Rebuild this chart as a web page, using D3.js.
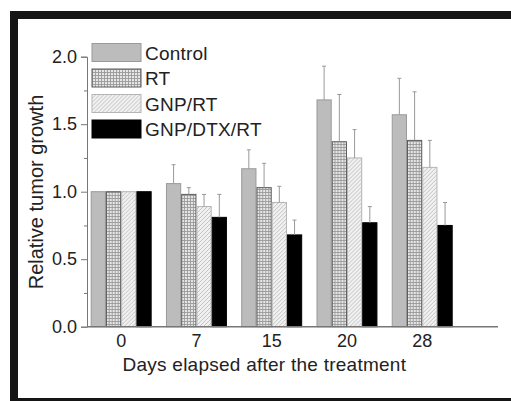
<!DOCTYPE html>
<html>
<head>
<meta charset="utf-8">
<script src="https://cdn.jsdelivr.net/npm/d3@7"></script>
<style>
  html, body { margin: 0; padding: 0; background: #fff; overflow: hidden; }
  svg { display: block; overflow: hidden; }
  text { font-family: "Liberation Sans", Arial, sans-serif; fill: #222; }
</style>
</head>
<body>
<svg id="chart" width="511" height="401"></svg>
<script>
// Days after treatment (groups) and treatment series
const days = ["0", "7", "15", "20", "28"];
const series = ["Control", "RT", "GNP/RT", "GNP/DTX/RT"];

// Mean relative tumor growth per series, one value per day
const controlMean = [1.00, 1.06, 1.17, 1.68, 1.57];
const rtMean      = [1.00, 0.98, 1.03, 1.37, 1.38];
const gnpRtMean   = [1.00, 0.89, 0.92, 1.25, 1.18];
const gnpDtxMean  = [1.00, 0.81, 0.68, 0.77, 0.75];

// Upper error (SD) per series, one value per day
const controlErr = [0, 0.14, 0.14, 0.25, 0.27];
const rtErr      = [0, 0.05, 0.18, 0.35, 0.36];
const gnpRtErr   = [0, 0.09, 0.12, 0.21, 0.20];
const gnpDtxErr  = [0, 0.17, 0.11, 0.12, 0.17];

const yTicks = [0.0, 0.5, 1.0, 1.5, 2.0];
const yMinorTicks = [0.25, 0.75, 1.25, 1.75];

const means = [controlMean, rtMean, gnpRtMean, gnpDtxMean];
const errs = [controlErr, rtErr, gnpRtErr, gnpDtxErr];

const W = 511, H = 401;
const svg = d3.select("#chart");
const defs = svg.append("defs");

// Fine grid pattern for RT
const grid = defs.append("pattern").attr("id", "grid")
  .attr("patternUnits", "userSpaceOnUse").attr("width", 3).attr("height", 3);
grid.append("rect").attr("width", 3).attr("height", 3).attr("fill", "#e6e6e6");
grid.append("path").attr("d", "M0,0.5H3M0.5,0V3").attr("stroke", "#9a9a9a").attr("stroke-width", 0.9);

// Diagonal hatch pattern for GNP/RT
const hatch = defs.append("pattern").attr("id", "hatch")
  .attr("patternUnits", "userSpaceOnUse").attr("width", 4).attr("height", 4);
hatch.append("rect").attr("width", 4).attr("height", 4).attr("fill", "#f1f1f1");
hatch.append("path").attr("d", "M-1,1L1,-1M0,4L4,0M3,5L5,3").attr("stroke", "#bdbdbd").attr("stroke-width", 0.9);

const styles = [
  { fill: "#bcbcbc", stroke: "#9a9a9a" },
  { fill: "url(#grid)", stroke: "#5a5a5a" },
  { fill: "url(#hatch)", stroke: "#b5b5b5" },
  { fill: "#000", stroke: "#000" }
];

// Frame: dark bands on top, left and bottom, open on the right
const frame = svg.append("g").attr("fill", "#151515");
frame.append("rect").attr("x", 10).attr("y", 11).attr("width", W - 10).attr("height", 8);
frame.append("rect").attr("x", 10).attr("y", 11).attr("width", 8).attr("height", H - 11);
frame.append("rect").attr("x", 10).attr("y", 398).attr("width", W - 10).attr("height", H - 398);

// Plot geometry
const axisX = 87, axisRight = 498;
const y = d3.scaleLinear().domain([0, 2]).range([326.7, 56.7]);
const x0 = d3.scaleBand().domain(days).range([90.7, 452.7]).paddingInner(0.19).paddingOuter(0);
const x1 = d3.scaleBand().domain(series).range([0, x0.bandwidth()]).padding(0);

// Bars
const groups = svg.append("g").selectAll("g").data(days).join("g")
  .attr("transform", d => `translate(${x0(d)},0)`);

groups.each(function(day, di) {
  const g = d3.select(this);
  series.forEach((s, si) => {
    const v = means[si][di];
    g.append("rect")
      .attr("x", x1(s) + 0.5)
      .attr("y", y(v))
      .attr("width", x1.bandwidth() - 1)
      .attr("height", y(0) - y(v))
      .attr("fill", styles[si].fill)
      .attr("stroke", styles[si].stroke)
      .attr("stroke-width", 1);
    const e = errs[si][di];
    if (e > 0) {
      const cx = x1(s) + x1.bandwidth() / 2;
      g.append("line").attr("x1", cx).attr("x2", cx)
        .attr("y1", y(v)).attr("y2", y(v + e))
        .attr("stroke", "#999").attr("stroke-width", 1);
      g.append("line").attr("x1", cx - 2).attr("x2", cx + 2)
        .attr("y1", y(v + e)).attr("y2", y(v + e))
        .attr("stroke", "#999").attr("stroke-width", 1);
    }
  });
});

// Y axis
const yAxis = svg.append("g").attr("transform", `translate(${axisX},0)`)
  .call(d3.axisLeft(y).tickValues(yTicks).tickSize(6).tickPadding(4).tickFormat(d3.format(".1f")));
yAxis.select(".domain").attr("stroke", "#777").attr("stroke-width", 1);
yAxis.selectAll(".tick line").attr("stroke", "#777");
yAxis.selectAll("text").attr("font-size", 18).attr("fill", "#222")
  .attr("font-family", "Liberation Sans, Arial, sans-serif");

const yMinor = svg.append("g").attr("transform", `translate(${axisX},0)`)
  .call(d3.axisLeft(y).tickValues(yMinorTicks).tickSize(3).tickFormat(""));
yMinor.select(".domain").remove();
yMinor.selectAll(".tick line").attr("stroke", "#777");

// X axis
svg.append("line").attr("x1", axisX).attr("x2", axisRight)
  .attr("y1", y(0)).attr("y2", y(0)).attr("stroke", "#777").attr("stroke-width", 1.5);
const xAxis = svg.append("g").attr("transform", `translate(0,${y(0)})`)
  .call(d3.axisBottom(x0).tickSize(0).tickPadding(8));
xAxis.select(".domain").remove();
xAxis.selectAll("text").attr("font-size", 18).attr("fill", "#222")
  .attr("font-family", "Liberation Sans, Arial, sans-serif");

// Axis titles
svg.append("text").attr("x", (122.7 + 406) / 2).attr("y", 371)
  .attr("text-anchor", "middle").attr("font-size", 19).attr("letter-spacing", 0.25)
  .text("Days elapsed after the treatment");
svg.append("text").attr("transform", "translate(43,192) rotate(-90)")
  .attr("text-anchor", "middle").attr("font-size", 20)
  .text("Relative tumor growth");

// Legend
const legend = svg.append("g").attr("transform", "translate(92,43.5)");
series.forEach((s, i) => {
  const row = legend.append("g").attr("transform", `translate(0,${i * 25.5})`);
  row.append("rect").attr("x", 0).attr("y", 0).attr("width", 49).attr("height", 18)
    .attr("fill", styles[i].fill).attr("stroke", styles[i].stroke).attr("stroke-width", 1);
  row.append("text").attr("x", 53).attr("y", 16).attr("font-size", 19).attr("letter-spacing", 0.2).text(s);
});
</script>
</body>
</html>
